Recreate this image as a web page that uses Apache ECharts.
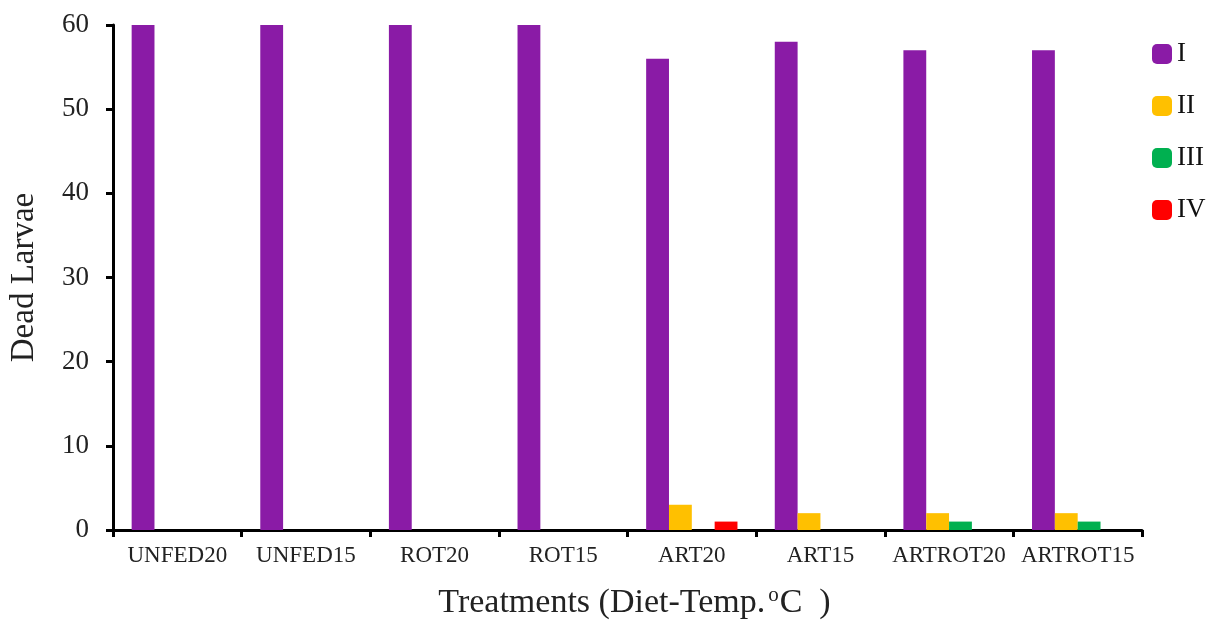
<!DOCTYPE html>
<html><head><meta charset="utf-8">
<script src="https://cdn.jsdelivr.net/npm/echarts@6/dist/echarts.min.js"></script>
<style>html,body{margin:0;padding:0;background:#fff}#c{width:1215px;height:621px}</style>
</head><body><div id="c"></div>
<script>
const categories = ['UNFED20','UNFED15','ROT20','ROT15','ART20','ART15','ARTROT20','ARTROT15'];
const seriesNames = ['I','II','III','IV'];
const valuesI = [60,60,60,60,56,58,57,57];
const valuesII = [0,0,0,0,3,2,2,2];
const valuesIII = [0,0,0,0,0,0,1,1];
const valuesIV = [0,0,0,0,1,0,0,0];
const colors = ['#8A1BA6','#FFC000','#00B050','#FF0000'];
const yTicks = {min:0, max:60, interval:10};

const font = '"Liberation Serif","DejaVu Serif",serif';
const chart = echarts.init(document.getElementById('c'));
const data = [valuesI, valuesII, valuesIII, valuesIV];
chart.setOption({
  animation:false,
  color: colors,
  grid:{left:113, right:73, top:25, bottom:91, containLabel:false, outerBoundsMode:'none'},
  legend:{
    orient:'vertical', left:1147, top:35, itemWidth:20, itemHeight:20, itemGap:24,
    icon:'roundRect',
    textStyle:{fontFamily:font, fontSize:27, lineHeight:28, color:'#111', padding:[0,0,0,0]},
    data: seriesNames
  },
  xAxis:{
    type:'category', data:categories,
    axisLine:{lineStyle:{color:'#000', width:3}},
    axisTick:{show:true, length:7, lineStyle:{color:'#000', width:3}, alignWithLabel:false},
    axisLabel:{fontFamily:font, fontSize:23, color:'#222', margin:14, interval:0},
    name:'{a|Treatments (Diet-Temp.}{s|o}{a|C  )}',
    nameLocation:'middle', nameGap:55,
    nameTextStyle:{padding:[0,0,0,14], rich:{a:{fontFamily:font, fontSize:34, color:'#222'}, s:{fontFamily:font, fontSize:21, color:'#222', verticalAlign:'top', padding:[0,1,16,3]}}}
  },
  yAxis:{
    type:'value', min:yTicks.min, max:yTicks.max, interval:yTicks.interval,
    splitLine:{show:false},
    axisLine:{show:true, lineStyle:{color:'#000', width:3}},
    axisTick:{show:true, length:7, lineStyle:{color:'#000', width:3}},
    axisLabel:{fontFamily:font, fontSize:27, color:'#222', margin:24},
    name:'Dead Larvae', nameLocation:'middle', nameGap:72,
    nameTextStyle:{fontFamily:font, fontSize:33, color:'#222'}
  },
  series: seriesNames.map((n,i)=>({
    name:n, type:'bar', data:data[i], barGap:'0%', barCategoryGap:'29%',
    itemStyle:{color:colors[i]}
  }))
});
</script></body></html>
